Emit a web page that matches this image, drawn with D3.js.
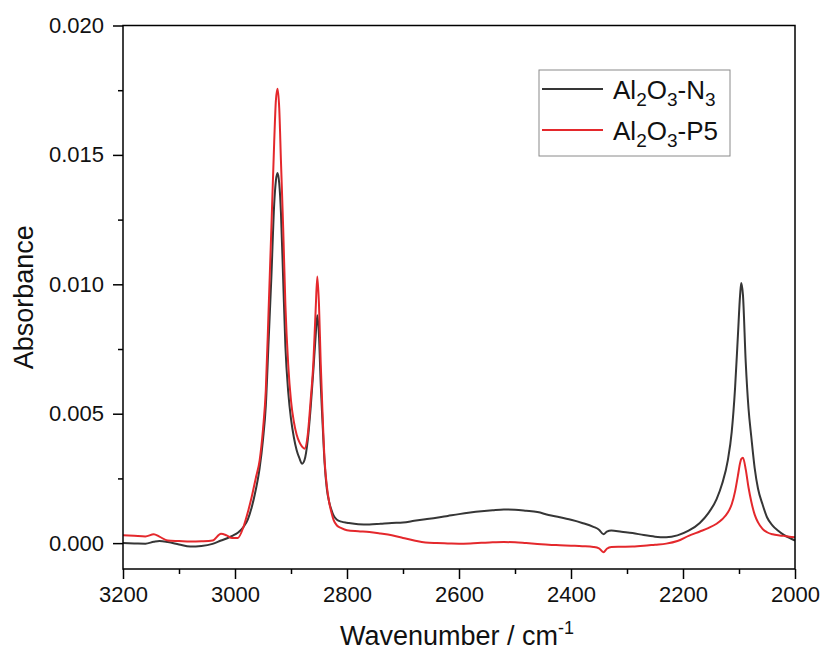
<!DOCTYPE html>
<html>
<head>
<meta charset="utf-8">
<script src="https://cdn.jsdelivr.net/npm/d3@7"></script>
<style>
  html, body { margin: 0; padding: 0; background: #fff; }
  svg { display: block; font-family: Arial, "Liberation Sans", sans-serif; }
</style>
</head>
<body>
<svg id="chart" width="824" height="650"></svg>
<script>
// ---- data ----
const wavenumbers = [3200, 3180, 3160, 3145, 3135, 3120, 3100, 3080, 3060, 3040, 3025, 3015, 3005, 2995, 2985, 2977, 2970, 2963, 2956, 2950, 2945, 2940, 2935, 2930, 2927, 2924, 2921, 2918, 2914, 2910, 2905, 2900, 2895, 2890, 2885, 2880, 2876, 2870, 2865, 2860, 2856, 2853, 2850, 2847, 2844, 2840, 2836, 2832, 2828, 2824, 2818, 2810, 2800, 2780, 2760, 2740, 2720, 2700, 2680, 2660, 2640, 2620, 2600, 2580, 2560, 2540, 2520, 2500, 2480, 2460, 2440, 2420, 2400, 2380, 2360, 2350, 2342, 2336, 2328, 2310, 2290, 2270, 2250, 2230, 2210, 2190, 2170, 2155, 2140, 2130, 2120, 2113, 2107, 2102, 2098, 2096, 2093, 2088, 2083, 2078, 2072, 2066, 2058, 2050, 2040, 2030, 2020, 2010, 2000];

const n3Absorbance = [0.00000, -0.00001, -0.00002, 0.00005, 0.00008, 0.00004, -0.00005, -0.00013, -0.00011, -0.00003, 0.00010, 0.00018, 0.00028, 0.00040, 0.00062, 0.00092, 0.00140, 0.00205, 0.00290, 0.00400, 0.00530, 0.00780, 0.01030, 0.01310, 0.01400, 0.01430, 0.01390, 0.01280, 0.01020, 0.00760, 0.00585, 0.00480, 0.00410, 0.00360, 0.00328, 0.00307, 0.00320, 0.00400, 0.00520, 0.00670, 0.00800, 0.00880, 0.00800, 0.00620, 0.00480, 0.00310, 0.00210, 0.00160, 0.00130, 0.00107, 0.00090, 0.00083, 0.00079, 0.00073, 0.00072, 0.00075, 0.00078, 0.00080, 0.00086, 0.00092, 0.00098, 0.00105, 0.00112, 0.00118, 0.00123, 0.00127, 0.00130, 0.00129, 0.00125, 0.00120, 0.00109, 0.00100, 0.00090, 0.00078, 0.00063, 0.00052, 0.00034, 0.00044, 0.00049, 0.00044, 0.00039, 0.00031, 0.00025, 0.00023, 0.00030, 0.00048, 0.00078, 0.00115, 0.00170, 0.00230, 0.00320, 0.00430, 0.00600, 0.00800, 0.00960, 0.01005, 0.00960, 0.00700, 0.00520, 0.00410, 0.00290, 0.00210, 0.00150, 0.00100, 0.00068, 0.00048, 0.00032, 0.00020, 0.00010];

const p5Absorbance = [0.00030, 0.00028, 0.00026, 0.00034, 0.00025, 0.00010, 0.00008, 0.00006, 0.00007, 0.00010, 0.00036, 0.00030, 0.00020, 0.00020, 0.00062, 0.00120, 0.00180, 0.00250, 0.00320, 0.00440, 0.00590, 0.00900, 0.01220, 0.01550, 0.01710, 0.01756, 0.01680, 0.01480, 0.01220, 0.00920, 0.00690, 0.00550, 0.00470, 0.00420, 0.00390, 0.00372, 0.00365, 0.00420, 0.00550, 0.00700, 0.00900, 0.01030, 0.00920, 0.00700, 0.00520, 0.00320, 0.00220, 0.00160, 0.00120, 0.00090, 0.00068, 0.00058, 0.00050, 0.00046, 0.00043, 0.00037, 0.00030, 0.00020, 0.00010, 0.00002, 0.00000, -0.00001, -0.00002, -0.00001, 0.00001, 0.00003, 0.00004, 0.00003, 0.00000, -0.00003, -0.00006, -0.00008, -0.00010, -0.00012, -0.00015, -0.00020, -0.00035, -0.00022, -0.00015, -0.00014, -0.00013, -0.00010, -0.00006, -0.00002, 0.00008, 0.00028, 0.00045, 0.00058, 0.00075, 0.00092, 0.00118, 0.00150, 0.00200, 0.00260, 0.00310, 0.00325, 0.00330, 0.00285, 0.00215, 0.00160, 0.00110, 0.00080, 0.00055, 0.00042, 0.00034, 0.00030, 0.00028, 0.00025, 0.00023];

const xTicks = [3200, 3000, 2800, 2600, 2400, 2200, 2000];
const xMinorTicks = [3100, 2900, 2700, 2500, 2300, 2100];
const yTicks = [0.000, 0.005, 0.010, 0.015, 0.020];
const yMinorTicks = [0.0025, 0.0075, 0.0125, 0.0175];
const seriesNames = ["N3", "P5"];
const seriesColors = ["#363636", "#e4282c"];
const xTitle = "Wavenumber / cm";
const yTitle = "Absorbance";

// ---- layout ----
const svg = d3.select("#chart");
const mLeft = 123, mRight = 795, mTop = 25.5, mBottom = 569;

const x = d3.scaleLinear().domain([3200, 2000]).range([mLeft, mRight]);
const y = d3.scaleLinear().domain([-0.001, 0.020]).range([mBottom, mTop]);

// x axis
const xAxis = svg.append("g").attr("transform", `translate(0,${mBottom})`)
  .call(d3.axisBottom(x).tickValues(xTicks).tickFormat(d3.format("d")).tickSize(10).tickPadding(7));
svg.append("g").attr("transform", `translate(0,${mBottom})`)
  .call(d3.axisBottom(x).tickValues(xMinorTicks).tickFormat("").tickSize(5))
  .call(g => g.select(".domain").remove());

// y axis
const yAxis = svg.append("g").attr("transform", `translate(${mLeft},0)`)
  .call(d3.axisLeft(y).tickValues(yTicks).tickFormat(d3.format(".3f")).tickSize(10).tickPadding(9));
svg.append("g").attr("transform", `translate(${mLeft},0)`)
  .call(d3.axisLeft(y).tickValues(yMinorTicks).tickFormat("").tickSize(5))
  .call(g => g.select(".domain").remove());

xAxis.select(".domain").remove();
yAxis.select(".domain").remove();

svg.selectAll(".tick line").attr("stroke", "#000").attr("stroke-width", 1.5);
svg.selectAll(".tick text").attr("font-size", 22).attr("fill", "#111")
  .attr("font-family", "Arial, 'Liberation Sans', sans-serif");

// curves
const line = d3.line().curve(d3.curveMonotoneX)
  .x((d, i) => x(wavenumbers[i])).y(d => y(d));

const seriesData = [n3Absorbance, p5Absorbance];
seriesData.forEach((vals, k) => {
  svg.append("path").datum(vals)
    .attr("d", line)
    .attr("fill", "none")
    .attr("stroke", seriesColors[k])
    .attr("stroke-width", 2)
    .attr("stroke-linejoin", "round");
});

// frame
svg.append("rect").attr("x", mLeft).attr("y", mTop)
  .attr("width", mRight - mLeft).attr("height", mBottom - mTop)
  .attr("fill", "none").attr("stroke", "#000").attr("stroke-width", 1.5);

// axis titles
const xt = svg.append("text").attr("x", (mLeft + mRight) / 2 - 2).attr("y", 645)
  .attr("text-anchor", "middle").attr("font-size", 27).attr("fill", "#111");
xt.append("tspan").text(xTitle);
xt.append("tspan").attr("font-size", 18).attr("dy", -11).text("-1");

svg.append("text")
  .attr("transform", `translate(33,${(mTop + mBottom) / 2}) rotate(-90)`)
  .attr("text-anchor", "middle").attr("font-size", 27).attr("fill", "#111")
  .text(yTitle);

// legend
const lg = svg.append("g");
lg.append("rect").attr("x", 539).attr("y", 70).attr("width", 191).attr("height", 86)
  .attr("fill", "#fff").attr("stroke", "#8a8a8a").attr("stroke-width", 1);
const rowsY = [89, 130];
seriesNames.forEach((name, k) => {
  lg.append("line").attr("x1", 542).attr("x2", 603).attr("y1", rowsY[k]).attr("y2", rowsY[k])
    .attr("stroke", seriesColors[k]).attr("stroke-width", 2);
  const t = lg.append("text").attr("x", 613).attr("y", rowsY[k] + 10)
    .attr("font-size", 26).attr("fill", "#111");
  t.append("tspan").text("Al");
  t.append("tspan").attr("font-size", 19).attr("dy", 7).text("2");
  t.append("tspan").attr("dy", -7).text("O");
  t.append("tspan").attr("font-size", 19).attr("dy", 7).text("3");
  if (name === "N3") {
    t.append("tspan").attr("dy", -7).text("-N");
    t.append("tspan").attr("font-size", 19).attr("dy", 7).text("3");
  } else {
    t.append("tspan").attr("dy", -7).text("-P5");
  }
});
</script>
</body>
</html>
